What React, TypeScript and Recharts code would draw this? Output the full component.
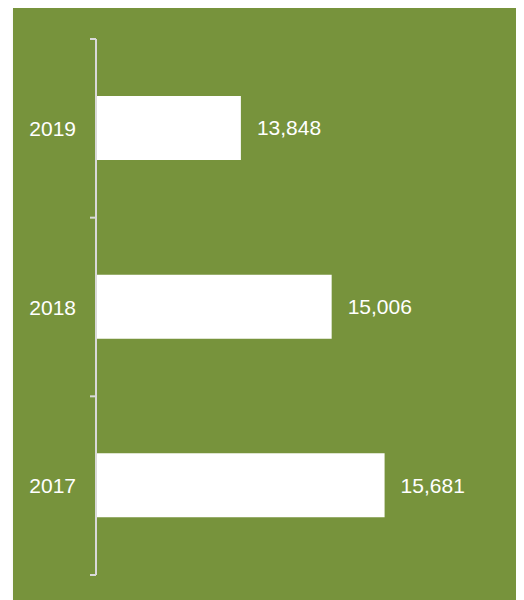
import React from 'react';
import { BarChart, Bar, XAxis, YAxis, LabelList } from 'recharts';

const years = ['2019', '2018', '2017'];
const values = [13848, 15006, 15681];
const xDomain = [12000, 17000];

const data = years.map((y, i) => ({ year: y, value: values[i] }));

const FONT = '"Liberation Sans", Arial, sans-serif';
const AXIS_COLOR = '#D9D9D9';

const CategoryTick = (props: any) => {
  const { x, y, payload, index, visibleTicksCount } = props;
  const off = payload && typeof payload.offset === 'number' ? payload.offset : 0;
  const ax = x + 8;
  return (
    <g>
      <line x1={ax - 6} x2={ax} y1={y - off} y2={y - off} stroke={AXIS_COLOR} strokeWidth={2} />
      {index === (visibleTicksCount ?? years.length) - 1 && (
        <line x1={ax - 6} x2={ax} y1={y + off} y2={y + off} stroke={AXIS_COLOR} strokeWidth={2} />
      )}
      <text x={ax - 20} y={y} textAnchor="end" dominantBaseline="central" fill="#FFFFFF" fontSize={21} fontFamily={FONT}>
        {payload.value}
      </text>
    </g>
  );
};

export default function App() {
  return (
    <div
      style={{
        marginLeft: 5,
        width: 503,
        height: 592,
        background: '#77933C',
        boxShadow: '4px 2px 6px rgba(0,0,0,0.35)',
      }}
    >
      <BarChart
        width={503}
        height={592}
        data={data}
        layout="vertical"
        margin={{ top: 31, right: 28, bottom: 25, left: 0 }}
      >
        <XAxis type="number" domain={xDomain} allowDataOverflow hide />
        <YAxis
          type="category"
          dataKey="year"
          width={83}
          axisLine={{ stroke: AXIS_COLOR, strokeWidth: 2 }}
          tickLine={false}
          tick={<CategoryTick />}
          interval={0}
        />
        <Bar dataKey="value" fill="#FFFFFF" barSize={64} isAnimationActive={false}>
          <LabelList
            dataKey="value"
            position="right"
            offset={16}
            fill="#FFFFFF"
            fontSize={21}
            fontFamily={FONT}
            formatter={(v: any) => Number(v).toLocaleString('en-US')}
          />
        </Bar>
      </BarChart>
    </div>
  );
}
